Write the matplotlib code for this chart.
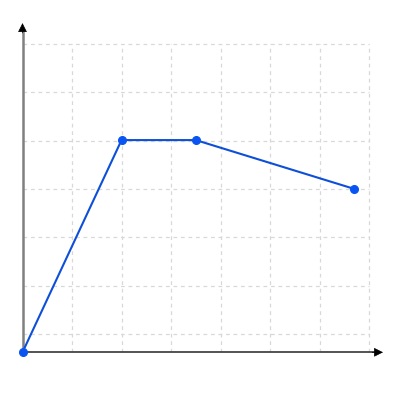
import numpy as np
import matplotlib.pyplot as plt

# data (grid units)
x_vals = [0, 2, 3.5, 6.7]
y_vals = [0, 4.39, 4.39, 3.38]

# grid positions
x_grid = [1, 2, 3, 4, 5, 6, 7]
y_grid = [0.38, 1.38, 2.38, 3.38, 4.38, 5.38, 6.38]

fig = plt.figure(figsize=(4, 4), dpi=100)
ax = fig.add_axes([0.05625, 0.11925, 0.90125, 0.823])
ax.set_xlim(0, 7.28)
ax.set_ylim(0, 6.81)

for s in ['top', 'right', 'left', 'bottom']:
    ax.spines[s].set_visible(False)
ax.set_xticks([])
ax.set_yticks([])

# dashed grid, limited to the grid box
ax.vlines(x_grid, 0, y_grid[-1], colors='#d8d8d8', linestyles=(0, (3, 3)), linewidth=0.9, zorder=1)
ax.hlines(y_grid, 0, x_grid[-1], colors='#d8d8d8', linestyles=(0, (3, 3)), linewidth=0.9, zorder=1)

# axis lines
ax.plot([0, 0.98], [0, 0], transform=ax.transAxes, color='#444444', lw=1.3, clip_on=False, zorder=2)
ax.plot([0, 0], [0, 0.98], transform=ax.transAxes, color='#808080', lw=1.8, clip_on=False, zorder=2)

# black arrow heads
ax.annotate('', xy=(1, 0), xytext=(0.97, 0), xycoords='axes fraction',
            arrowprops=dict(arrowstyle='-|>', color='black', lw=0.5,
                            mutation_scale=14, shrinkA=0, shrinkB=0), zorder=2)
ax.annotate('', xy=(0, 1), xytext=(0, 0.97), xycoords='axes fraction',
            arrowprops=dict(arrowstyle='-|>', color='black', lw=0.5,
                            mutation_scale=14, shrinkA=0, shrinkB=0), zorder=2)

ax.plot(x_vals, y_vals, color='#0d4fd8', linewidth=1.5, marker='o',
        markersize=5.5, markerfacecolor='#0a55f2', markeredgecolor='#0a55f2',
        clip_on=False, zorder=3)

fig.savefig('out.png', dpi=100, facecolor='white')
